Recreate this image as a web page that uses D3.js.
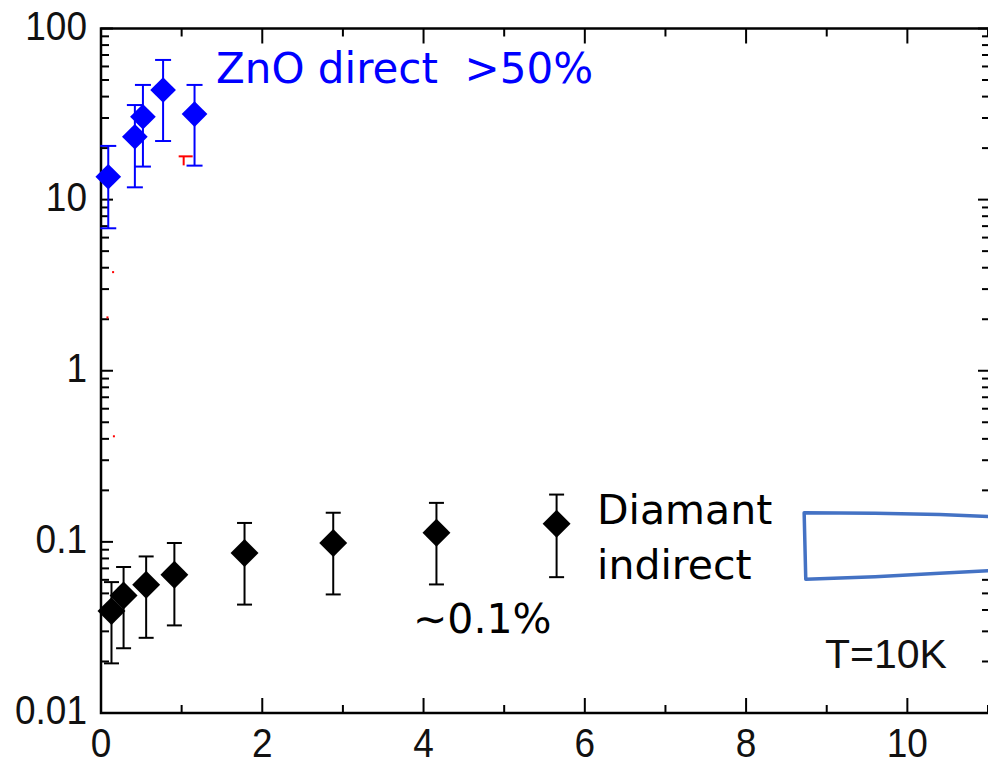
<!DOCTYPE html>
<html><head><meta charset="utf-8">
<script src="https://cdn.jsdelivr.net/npm/d3@7"></script>
<style>html,body{margin:0;padding:0;background:#fff;}svg{display:block;}</style>
</head><body><div id="chart"></div>
<script>
// ---- data ----
const znoX  = [0.09, 0.42, 0.52, 0.77, 1.16];
const znoY  = [13.6, 23.3, 30.5, 43.7, 31.6];
const znoHi = [20.6, 35.7, 46.8, 65.5, 46.8];
const znoLo = [6.8, 11.8, 15.6, 22.0, 15.8];

const diaX  = [0.13, 0.28, 0.56, 0.91, 1.78, 2.88, 4.16, 5.65];
const diaY  = [0.0394, 0.0486, 0.0562, 0.0643, 0.0861, 0.0984, 0.113, 0.1277];
const diaHi = [0.0582, 0.0713, 0.0822, 0.0985, 0.129, 0.148, 0.169, 0.189];
const diaLo = [0.0195, 0.0239, 0.0275, 0.0325, 0.043, 0.0493, 0.0564, 0.0622];

// faint red remnants of a hidden series
const redCapX = [1.05];
const redCapY = [17.9];
const redDotX = [0.15, 0.08, 0.16];
const redDotY = [3.77, 2.05, 0.414];

// callout bracket (data coords)
const bracketX = [11.4, 10.4, 9.6, 8.72, 8.74, 9.6, 10.4, 11.4];
const bracketY = [0.138, 0.1445, 0.147, 0.148, 0.0605, 0.0625, 0.0655, 0.0695];

const xTicksMajor = [0, 2, 4, 6, 8, 10];
const xTicksMinor = [1, 3, 5, 7, 9, 11];
const yTickLabels = ["0.01", "0.1", "1", "10", "100"];
const yTickValues = [0.01, 0.1, 1, 10, 100];

// ---- layout ----
const W = 988, H = 763;
const L = 101, R = 988, T = 28.5, B = 713;

const svg = d3.select("#chart").append("svg").attr("width", W).attr("height", H);
svg.append("rect").attr("width", W).attr("height", H).attr("fill", "#fff");

const x = d3.scaleLinear().domain([0, 11]).range([L, R]);
const y = d3.scaleLog().domain([0.01, 100]).range([B, T]);

// minor y ticks
const yMinor = [];
for (let e = -2; e < 2; e++) for (let m = 2; m <= 9; m++) yMinor.push(m * Math.pow(10, e));

const axG = svg.append("g").attr("stroke", "#000").attr("stroke-width", 2);
yTickValues.forEach(v => {
  axG.append("line").attr("x1", L).attr("x2", L + 12).attr("y1", y(v)).attr("y2", y(v));
  axG.append("line").attr("x1", R + 2).attr("x2", R - 10).attr("y1", y(v)).attr("y2", y(v));
});
yMinor.forEach(v => {
  axG.append("line").attr("x1", L).attr("x2", L + 8).attr("y1", y(v)).attr("y2", y(v));
  axG.append("line").attr("x1", R + 2).attr("x2", R - 6).attr("y1", y(v)).attr("y2", y(v));
});
xTicksMajor.forEach(v => {
  axG.append("line").attr("x1", x(v)).attr("x2", x(v)).attr("y1", B).attr("y2", B - 15);
  axG.append("line").attr("x1", x(v)).attr("x2", x(v)).attr("y1", T).attr("y2", T + 15);
});
xTicksMinor.forEach(v => {
  axG.append("line").attr("x1", x(v)).attr("x2", x(v)).attr("y1", B).attr("y2", B - 8);
  axG.append("line").attr("x1", x(v)).attr("x2", x(v)).attr("y1", T).attr("y2", T + 8);
});
axG.append("path").attr("fill", "none").attr("stroke-width", 2.5)
  .attr("d", `M${R + 3},${T}H${L}V${B}H${R + 3}`);

// tick labels (slightly tall, like the reference)
const lab = svg.append("g").attr("font-family", "'Liberation Sans', Arial, sans-serif")
  .attr("font-size", 37).attr("fill", "#111");
yTickValues.forEach((v, i) => {
  lab.append("text").attr("text-anchor", "end")
    .attr("transform", `translate(87,${y(v) + 11}) scale(1,1.1)`).text(yTickLabels[i]);
});
xTicksMajor.forEach(v => {
  lab.append("text").attr("text-anchor", "middle")
    .attr("transform", `translate(${x(v)},757) scale(1,1.1)`).text(v);
});

// red remnants
const red = svg.append("g").attr("stroke", "#ff0000").attr("stroke-width", 2);
redCapX.forEach((v, i) => {
  red.append("line").attr("x1", x(v) - 7).attr("x2", x(v) + 7).attr("y1", y(redCapY[i])).attr("y2", y(redCapY[i]));
  red.append("line").attr("x1", x(v) - 2).attr("x2", x(v) - 2).attr("y1", y(redCapY[i])).attr("y2", y(redCapY[i]) + 9);
});
redDotX.forEach((v, i) => {
  svg.append("rect").attr("x", x(v) - 1).attr("y", y(redDotY[i]) - 1).attr("width", 2).attr("height", 2).attr("fill", "#ff0000");
});

// error bars + diamonds
function series(xs, ys, lo, hi, color, size, capW) {
  const g = svg.append("g");
  xs.forEach((v, i) => {
    g.append("line").attr("x1", x(v)).attr("x2", x(v)).attr("y1", y(lo[i])).attr("y2", y(hi[i]))
      .attr("stroke", color).attr("stroke-width", 2);
    [lo[i], hi[i]].forEach(e => {
      g.append("line").attr("x1", x(v) - capW).attr("x2", x(v) + capW).attr("y1", y(e)).attr("y2", y(e))
        .attr("stroke", color).attr("stroke-width", 2);
    });
  });
  const sym = d3.symbol().type(d3.symbolSquare).size(size);
  xs.forEach((v, i) => {
    g.append("path").attr("d", sym()).attr("fill", color)
      .attr("transform", `translate(${x(v)},${y(ys[i])}) rotate(45)`);
  });
}
series(znoX, znoY, znoLo, znoHi, "#0000ff", 330, 8);
series(diaX, diaY, diaLo, diaHi, "#000000", 390, 7.5);

// bracket callout
const bl = d3.line().x((d, i) => x(bracketX[i])).y((d, i) => y(bracketY[i]));
svg.append("path").attr("d", bl(bracketX)).attr("fill", "#fff")
  .attr("stroke", "#4472c4").attr("stroke-width", 3.5).attr("stroke-linejoin", "round");

// annotations
const ann = svg.append("g").attr("font-family", "'DejaVu Sans', Verdana, sans-serif").attr("font-size", 41);
ann.append("text").attr("x", 216).attr("y", 83).attr("font-size", 42).attr("fill", "#0000ff")
  .style("white-space", "pre").text("ZnO direct  >50%");
ann.append("text").attr("x", 597).attr("y", 524).attr("fill", "#000").text("Diamant");
ann.append("text").attr("x", 597).attr("y", 579).attr("fill", "#000").text("indirect");
ann.append("text").attr("x", 413).attr("y", 633).attr("font-size", 41).attr("fill", "#000").text("∼0.1%");
svg.append("text").attr("x", 825).attr("y", 668).attr("font-family", "'Liberation Sans', Arial, sans-serif")
  .attr("font-size", 41).attr("fill", "#111").text("T=10K");
</script></body></html>
